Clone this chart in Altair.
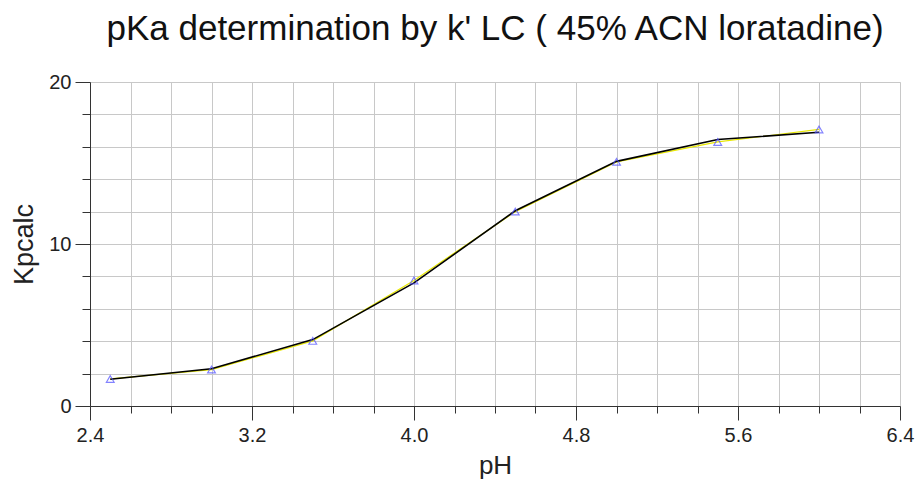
import altair as alt
import pandas as pd

# measured points
ph = [2.5, 3.0, 3.5, 4.0, 4.5, 5.0, 5.5, 6.0]
kp_meas = [1.67, 2.25, 4.02, 7.75, 12.0, 15.07, 16.3, 17.07]
# fitted curve values at the same pH
kp_fit = [1.65, 2.3, 4.1, 7.6, 12.05, 15.1, 16.45, 16.9]

x_ticks = [2.4, 2.6, 2.8, 3.0, 3.2, 3.4, 3.6, 3.8, 4.0, 4.2, 4.4, 4.6, 4.8,
           5.0, 5.2, 5.4, 5.6, 5.8, 6.0, 6.2, 6.4]
y_ticks = [0, 2, 4, 6, 8, 10, 12, 14, 16, 18, 20]

df = pd.DataFrame({"pH": ph, "meas": kp_meas, "fit": kp_fit})

FONT = "Liberation Sans"

x_enc = alt.X(
    "pH:Q",
    scale=alt.Scale(domain=[2.4, 6.4], nice=False, zero=False),
    axis=alt.Axis(
        values=x_ticks,
        title="pH",
        grid=True,
        gridColor="#c8c8c8",
        gridWidth=1,
        domainColor="#333333",
        tickColor="#333333",
        tickSize=alt.ExprRef("round((datum.value-2.4)*5) % 4 == 0 ? 14 : 7"),
        labelExpr="round((datum.value-2.4)*5) % 4 == 0 ? format(datum.value, '.1f') : ''",
        labelFont=FONT,
        labelFontSize=20,
        labelColor="#222222",
        labelPadding=5,
        labelFlush=False,
        labelOverlap=False,
        titleFont=FONT,
        titleFontSize=26,
        titleFontWeight="normal",
        titleColor="#222222",
        titleBaseline="alphabetic",
        titleY=67,
    ),
)

y_axis = alt.Axis(
    values=y_ticks,
    title="Kpcalc",
    grid=True,
    gridColor="#c8c8c8",
    gridWidth=1,
    domainColor="#333333",
    tickColor="#333333",
    tickSize=alt.ExprRef("datum.value % 10 == 0 ? 15 : 8"),
    labelExpr="datum.value % 10 == 0 ? format(datum.value, 'd') : ''",
    labelFont=FONT,
    labelFontSize=20,
    labelColor="#222222",
    labelPadding=4,
    labelFlush=False,
    labelOverlap=False,
    titleFont=FONT,
    titleFontSize=27,
    titleFontWeight="normal",
    titleColor="#222222",
    titleBaseline="alphabetic",
    titleAngle=-90,
    titleX=-58,
    titleY=162,
    titleAlign="center",
)
y_scale = alt.Scale(domain=[0, 20], nice=False)

base = alt.Chart(df).encode(x=x_enc)

yellow = base.mark_line(color="#e8e800", strokeWidth=1.2).encode(
    y=alt.Y("meas:Q", scale=y_scale, axis=y_axis)
)
black = base.mark_line(color="#000000", strokeWidth=1.6).encode(
    y=alt.Y("fit:Q", scale=y_scale, axis=y_axis)
)
pts = base.mark_point(
    shape="triangle-up", filled=False, color="#5050ff", size=60, strokeWidth=1.2
).encode(y=alt.Y("meas:Q", scale=y_scale, axis=y_axis))

chart = (
    alt.layer(yellow, black, pts)
    .properties(
        width=810,
        height=324,
        autosize=alt.AutoSizeParams(type="none"),
        padding={"left": 82, "top": 74, "right": 15, "bottom": 74},
        title=alt.TitleParams(
            text="pKa determination by k' LC ( 45% ACN loratadine)",
            font=FONT,
            fontSize=35,
            fontWeight="normal",
            color="#111111",
            anchor="middle",
            offset=25,
        ),
    )
    .configure_view(stroke="#888888", strokeWidth=1)
    .configure(background="white")
)

chart.save("out.html", embed_options={"renderer": "svg", "actions": False})
